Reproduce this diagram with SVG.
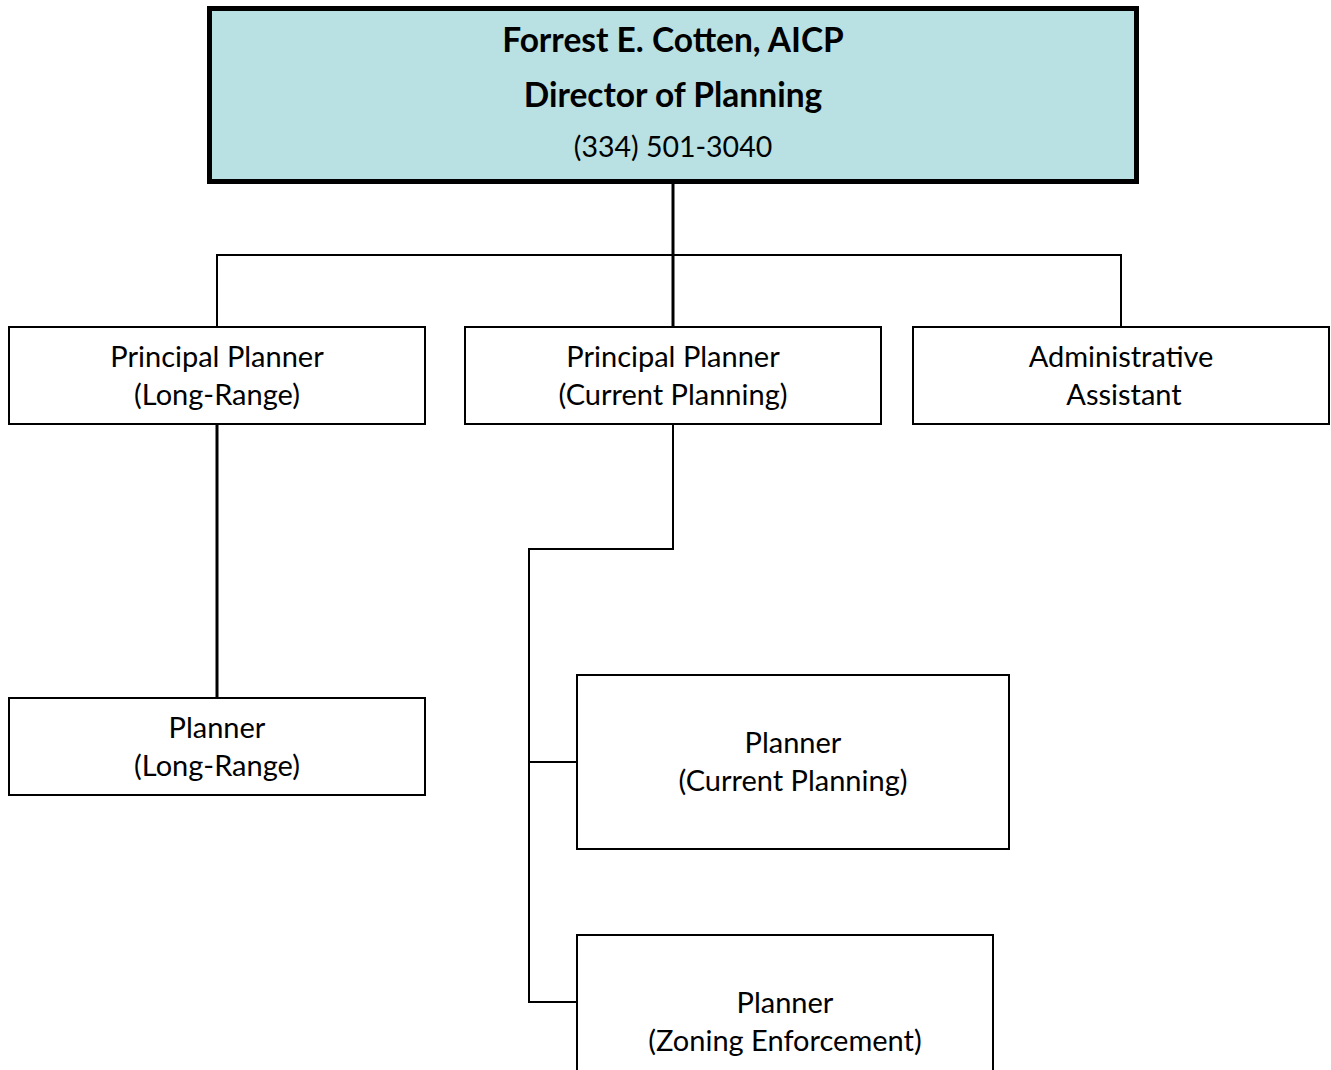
<svg xmlns="http://www.w3.org/2000/svg" width="1331" height="1070" viewBox="0 0 1331 1070">
<style>
.box{fill:#fff;stroke:#000;stroke-width:2}
.top{fill:#b9e0e3;stroke:#000;stroke-width:5}
.t{font-family:Lato,"Open Sans","Noto Sans",sans-serif;font-size:29px;text-anchor:middle;fill:#000}
.b{font-weight:bold;font-size:33.5px}
.ln{fill:none;stroke:#000;stroke-width:2}
.th{fill:none;stroke:#000;stroke-width:3}
</style>
<rect width="1331" height="1070" fill="#fff"/>
<g id="connectors">
<line class="th" x1="673" y1="184" x2="673" y2="327"/>
<polyline class="ln" points="217,327 217,255 1121,255 1121,327"/>
<line class="th" x1="217" y1="424" x2="217" y2="698"/>
<polyline class="ln" points="673,424 673,549 529,549 529,1002 577,1002"/>
<line class="ln" x1="529" y1="762" x2="577" y2="762"/>
</g>
<g id="director">
<rect class="top" x="209.5" y="8.5" width="927" height="173"/>
<text class="t b" x="673" y="52">Forrest E. Cotten, AICP</text>
<text class="t b" x="673" y="107">Director of Planning</text>
<text class="t" x="673" y="157" style="font-size:28.5px">(334) 501-3040</text>
</g>
<g id="pp-long">
<rect class="box" x="9" y="327" width="416" height="97"/>
<text class="t" x="217" y="367">Principal Planner</text>
<text class="t" x="217" y="405">(Long-Range)</text>
</g>
<g id="pp-current">
<rect class="box" x="465" y="327" width="416" height="97"/>
<text class="t" x="673" y="367">Principal Planner</text>
<text class="t" x="673" y="405">(Current Planning)</text>
</g>
<g id="admin">
<rect class="box" x="913" y="327" width="416" height="97"/>
<text class="t" x="1121" y="367">Administrative</text>
<text class="t" x="1124" y="405">Assistant</text>
</g>
<g id="planner-long">
<rect class="box" x="9" y="698" width="416" height="97"/>
<text class="t" x="217" y="738">Planner</text>
<text class="t" x="217" y="776">(Long-Range)</text>
</g>
<g id="planner-current">
<rect class="box" x="577" y="675" width="432" height="174"/>
<text class="t" x="793" y="753">Planner</text>
<text class="t" x="793" y="791">(Current Planning)</text>
</g>
<g id="planner-zoning">
<rect class="box" x="577" y="935" width="416" height="140"/>
<text class="t" x="785" y="1013">Planner</text>
<text class="t" x="785" y="1051">(Zoning Enforcement)</text>
</g>
</svg>
